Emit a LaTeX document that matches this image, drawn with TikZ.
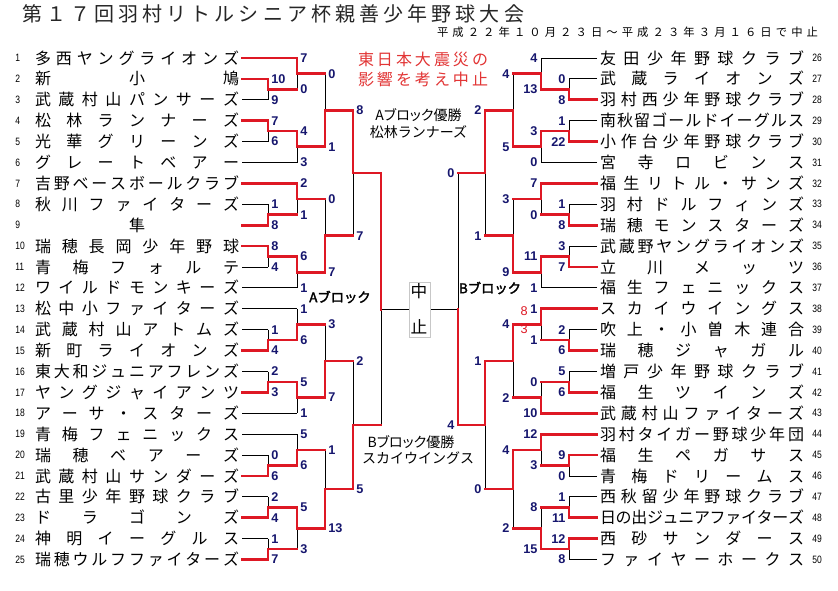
\documentclass[tikz,border=0pt]{standalone}
\usepackage{fontspec}
\setmainfont{Liberation Sans}
\newfontfamily\jp{Noto Sans CJK JP}
\newfontfamily\jpp[RawFeature=+palt]{Noto Sans CJK JP}
\newfontfamily\jpb[FakeBold=2.5]{Noto Sans CJK JP}
\newfontfamily\numf[FakeStretch=0.8]{Liberation Sans}
\usetikzlibrary{calc}
\pgfdeclarelayer{back}\pgfdeclarelayer{bg}\pgfsetlayers{back,bg,main}
\definecolor{bred}{RGB}{222,24,36}
\definecolor{navy}{RGB}{22,22,110}
\definecolor{notered}{RGB}{226,52,52}
\ExplSyntaxOn
\NewDocumentCommand\distrib{mm}{\hbox_to_wd:nn{#1}{\tl_map_inline:nn{#2}{##1\hskip 0pt plus 1fil minus 3pt}\unskip}}
\ExplSyntaxOff
% match: #1 out, #2 column, #3 next column, #4 top, #5 bottom, #6 winner t/b, #7 top score, #8 bottom score, #9 side L/R
\newcommand\mtch[9]{%
  \coordinate (#1) at ($(#4 -| #2)!0.5!(#5 -| #2)$);
  \ifx t#6
    \begin{pgfonlayer}{bg}\draw[lose] (#1) -- (#5 -| #2);\end{pgfonlayer}
    \draw[win] (#4 -| #2) -- (#1);
  \else
    \begin{pgfonlayer}{bg}\draw[lose] (#4 -| #2) -- (#1);\end{pgfonlayer}
    \draw[win] (#1) -- (#5 -| #2);
  \fi
  \draw[win] (#1) -- (#1 -| #3);
  \node[score#9] (#1-a) at (#4 -| #2) {#7};
  \node[score#9] (#1-b) at (#5 -| #2) {#8};
}
\newcommand\lteam[4]{%
  \pgfmathsetmacro\yy{58+(#1-1)*20.9}
  \node[tn] (T#1) at (137,\yy) {\distrib{153pt}{#2}};
  \node[numL] (N#1) at (15,\yy) {#1};
  \coordinate (L#1) at (242,\yy);
  \draw[#4] (L#1) -- (L#1 -| #3);
}
\newcommand\rteam[4]{%
  \pgfmathsetmacro\yy{58+(#1-26)*20.9}
  \node[tn] (T#1) at (702,\yy) {\distrib{153pt}{#2}};
  \node[numL] (N#1) at (812,\yy) {#1};
  \coordinate (R#1) at (597,\yy);
  \draw[#4] (R#1) -- (R#1 -| #3);
}
\begin{document}
\begin{tikzpicture}[x=0.75pt,y=-0.75pt,
  win/.style={draw=bred,line width=2pt,line cap=rect},
  lose/.style={draw=black,line width=0.75pt},
  tn/.style={inner sep=0pt,font=\jp\fontsize{12}{12}\selectfont,text height=10.5pt,text depth=1.5pt},
  numL/.style={anchor=west,inner sep=0pt,font=\numf\fontsize{8}{8}\selectfont},
  scoreL/.style={anchor=west,inner sep=0pt,xshift=2.3pt,font=\bfseries\fontsize{9.5}{9.5}\selectfont,text=navy},
  scoreR/.style={anchor=east,inner sep=0pt,xshift=-2.5pt,font=\bfseries\fontsize{9.5}{9.5}\selectfont,text=navy},
  extra/.style={anchor=east,inner sep=0pt,font=\fontsize{9.5}{9.5}\selectfont,text=bred},
  titlest/.style={inner sep=0pt,font=\jp\fontsize{15}{15}\selectfont,text=black!85},
  subst/.style={inner sep=0pt,font=\jp\fontsize{8.5}{8.5}\selectfont},
  notest/.style={inner sep=0pt,font=\jp\fontsize{12}{12}\selectfont,text=notered},
  champ/.style={inner sep=0pt,font=\jpp\fontsize{10.5}{10.5}\selectfont},
  champn/.style={inner sep=0pt,font=\jp\fontsize{10.5}{10.5}\selectfont},
  blockst/.style={inner sep=0pt,font=\jpb\fontsize{10}{10}\selectfont},
  stopbox/.style={draw=black!22,line width=0.75pt,minimum width=15.75pt,minimum height=41.25pt,inner sep=0pt},
  stopch/.style={inner sep=0pt,font=\jp\fontsize{12.5}{12.5}\selectfont}]
\begin{pgfonlayer}{back}
\fill[white] (0,0) rectangle (838,590);
\end{pgfonlayer}
\useasboundingbox (0,0) rectangle (838,590);
% columns
\coordinate (c1) at (268,0); \coordinate (c2) at (297,0); \coordinate (c3) at (325,0);
\coordinate (c4) at (353,0); \coordinate (c5) at (381,0);
\coordinate (d1) at (569,0); \coordinate (d2) at (541,0); \coordinate (d3) at (513,0);
\coordinate (d4) at (485,0); \coordinate (d5) at (458,0);
% headings
\node[titlest] (title) at (273,14) {\distrib{376.5pt}{第１７回羽村リトルシニア杯親善少年野球大会}};
\node[subst] (sub) at (627.5,32) {\distrib{285.75pt}{平成２２年１０月２３日～平成２３年３月１６日で中止}};
\node[notest] (note1) at (423,59) {\distrib{97.5pt}{東日本大震災の}};
\node[notest] (note2) at (423,79) {\distrib{97.5pt}{影響を考え中止}};
\node[champ] (achamp) at (418.5,115) {Aブロック優勝};
\node[champn] (achampn) at (418.5,132) {松林ランナーズ};
\node[champ] (bchamp) at (411,442) {Bブロック優勝};
\node[champn] (bchampn) at (418,458) {スカイウイングス};
\node[blockst] (ablock) at (340,297) {Aブロック};
\node[blockst] (bblock) at (490,288) {Bブロック};
% left teams
\lteam{1}{多西ヤングライオンズ}{c2}{win}
\lteam{2}{新小鳩}{c1}{win}
\lteam{3}{武蔵村山パンサーズ}{c1}{lose}
\lteam{4}{松林ランナーズ}{c1}{win}
\lteam{5}{光華グリーンズ}{c1}{lose}
\lteam{6}{グレートベアー}{c2}{lose}
\lteam{7}{吉野ベースボールクラブ}{c2}{win}
\lteam{8}{秋川ファイターズ}{c1}{lose}
\lteam{9}{{\hfil 隼\hfil}}{c1}{win}
\lteam{10}{瑞穂長岡少年野球}{c1}{win}
\lteam{11}{青梅フォルテ}{c1}{lose}
\lteam{12}{ワイルドモンキーズ}{c2}{lose}
\lteam{13}{松中小ファイターズ}{c2}{lose}
\lteam{14}{武蔵村山アトムズ}{c1}{lose}
\lteam{15}{新町ライオンズ}{c1}{win}
\lteam{16}{東大和ジュニアフレンズ}{c1}{lose}
\lteam{17}{ヤングジャイアンツ}{c1}{win}
\lteam{18}{アーサ・スターズ}{c2}{lose}
\lteam{19}{青梅フェニックス}{c2}{lose}
\lteam{20}{瑞穂ベアーズ}{c1}{lose}
\lteam{21}{武蔵村山サンダーズ}{c1}{win}
\lteam{22}{古里少年野球クラブ}{c1}{lose}
\lteam{23}{ドラゴンズ}{c1}{win}
\lteam{24}{神明イーグルス}{c1}{lose}
\lteam{25}{瑞穂ウルフファイターズ}{c1}{win}
% right teams
\rteam{26}{友田少年野球クラブ}{d2}{lose}
\rteam{27}{武蔵ライオンズ}{d1}{lose}
\rteam{28}{羽村西少年野球クラブ}{d1}{win}
\rteam{29}{南秋留ゴールドイーグルス}{d1}{lose}
\rteam{30}{小作台少年野球クラブ}{d1}{win}
\rteam{31}{宮寺ロビンス}{d2}{lose}
\rteam{32}{福生リトル・サンズ}{d2}{win}
\rteam{33}{羽村ドルフィンズ}{d1}{lose}
\rteam{34}{瑞穂モンスターズ}{d1}{win}
\rteam{35}{武蔵野ヤングライオンズ}{d1}{lose}
\rteam{36}{立川メッツ}{d1}{win}
\rteam{37}{福生フェニックス}{d2}{lose}
\rteam{38}{スカイウイングス}{d2}{win}
\rteam{39}{吹上・小曽木連合}{d1}{lose}
\rteam{40}{瑞穂ジャガル}{d1}{win}
\rteam{41}{増戸少年野球クラブ}{d1}{lose}
\rteam{42}{福生ツインズ}{d1}{win}
\rteam{43}{武蔵村山ファイターズ}{d2}{win}
\rteam{44}{羽村タイガー野球少年団}{d2}{win}
\rteam{45}{福生ペガサス}{d1}{win}
\rteam{46}{青梅ドリームス}{d1}{lose}
\rteam{47}{西秋留少年野球クラブ}{d1}{lose}
\rteam{48}{日の出ジュニアファイターズ}{d1}{win}
\rteam{49}{西砂サンダース}{d1}{win}
\rteam{50}{ファイヤーホークス}{d1}{lose}
% left block matches
\mtch{a1}{c1}{c2}{L2}{L3}{t}{10}{9}{L}
\mtch{a2}{c1}{c2}{L4}{L5}{t}{7}{6}{L}
\mtch{a3}{c1}{c2}{L8}{L9}{b}{1}{8}{L}
\mtch{a4}{c1}{c2}{L10}{L11}{t}{8}{4}{L}
\mtch{a5}{c1}{c2}{L14}{L15}{b}{1}{4}{L}
\mtch{a6}{c1}{c2}{L16}{L17}{b}{2}{3}{L}
\mtch{a7}{c1}{c2}{L20}{L21}{b}{0}{6}{L}
\mtch{a8}{c1}{c2}{L22}{L23}{b}{2}{4}{L}
\mtch{a9}{c1}{c2}{L24}{L25}{b}{1}{7}{L}
\mtch{b1}{c2}{c3}{L1}{a1}{t}{7}{0}{L}
\mtch{b2}{c2}{c3}{a2}{L6}{t}{4}{3}{L}
\mtch{b3}{c2}{c3}{L7}{a3}{t}{2}{1}{L}
\mtch{b4}{c2}{c3}{a4}{L12}{t}{6}{1}{L}
\mtch{b5}{c2}{c3}{L13}{a5}{b}{1}{6}{L}
\mtch{b6}{c2}{c3}{a6}{L18}{t}{5}{1}{L}
\mtch{b7}{c2}{c3}{L19}{a7}{b}{5}{6}{L}
\mtch{b8}{c2}{c3}{a8}{a9}{t}{5}{3}{L}
\mtch{e1}{c3}{c4}{b1}{b2}{b}{0}{1}{L}
\mtch{e2}{c3}{c4}{b3}{b4}{b}{0}{7}{L}
\mtch{e3}{c3}{c4}{b5}{b6}{b}{3}{7}{L}
\mtch{e4}{c3}{c4}{b7}{b8}{b}{1}{13}{L}
\mtch{f1}{c4}{c5}{e1}{e2}{t}{8}{7}{L}
\mtch{f2}{c4}{c5}{e3}{e4}{b}{2}{5}{L}
% right block matches
\mtch{p1}{d1}{d2}{R27}{R28}{b}{0}{8}{R}
\mtch{p2}{d1}{d2}{R29}{R30}{b}{1}{22}{R}
\mtch{p3}{d1}{d2}{R33}{R34}{b}{1}{8}{R}
\mtch{p4}{d1}{d2}{R35}{R36}{b}{3}{7}{R}
\mtch{p5}{d1}{d2}{R39}{R40}{b}{2}{6}{R}
\mtch{p6}{d1}{d2}{R41}{R42}{b}{5}{6}{R}
\mtch{p7}{d1}{d2}{R45}{R46}{t}{9}{0}{R}
\mtch{p8}{d1}{d2}{R47}{R48}{b}{1}{11}{R}
\mtch{p9}{d1}{d2}{R49}{R50}{t}{12}{8}{R}
\mtch{q1}{d2}{d3}{R26}{p1}{b}{4}{13}{R}
\mtch{q2}{d2}{d3}{p2}{R31}{t}{3}{0}{R}
\mtch{q3}{d2}{d3}{R32}{p3}{t}{7}{0}{R}
\mtch{q4}{d2}{d3}{p4}{R37}{t}{11}{1}{R}
\mtch{q5}{d2}{d3}{R38}{p5}{t}{1}{1}{R}
\mtch{q6}{d2}{d3}{p6}{R43}{b}{0}{10}{R}
\mtch{q7}{d2}{d3}{R44}{p7}{t}{12}{3}{R}
\mtch{q8}{d2}{d3}{p8}{p9}{b}{8}{15}{R}
\mtch{r1}{d3}{d4}{q1}{q2}{b}{4}{5}{R}
\mtch{r2}{d3}{d4}{q3}{q4}{b}{3}{9}{R}
\mtch{r3}{d3}{d4}{q5}{q6}{t}{4}{2}{R}
\mtch{r4}{d3}{d4}{q7}{q8}{t}{4}{2}{R}
\mtch{s1}{d4}{d5}{r1}{r2}{t}{2}{1}{R}
\mtch{s2}{d4}{d5}{r3}{r4}{t}{1}{0}{R}
% tie-break extra scores
\node[extra] (x8) at (528,311) {8};
\node[extra] (x3) at (528,329) {3};
% finals and cancelled final
\coordinate (fin) at (419.5,309.5);
\node[stopbox] (stop) at (fin) {};
\node[stopch] (stop1) at (419,291) {中};
\node[stopch] (stop2) at (419,327) {止};
\draw[win] (f1 -| c5) -- (fin -| c5);
\draw[win] (fin -| d5) -- (s2 -| d5);
\begin{pgfonlayer}{bg}
\draw[lose] (fin -| c5) -- (f2 -| c5);
\draw[lose] (fin -| c5) -- (stop.west |- fin);
\draw[lose] (stop.east |- fin) -- (fin -| d5);
\draw[lose] (s1 -| d5) -- (fin -| d5);
\end{pgfonlayer}
\node[scoreR] (bf-a) at (s1 -| d5) {0};
\node[scoreR] (bf-b) at (s2 -| d5) {4};
\end{tikzpicture}
\end{document}
